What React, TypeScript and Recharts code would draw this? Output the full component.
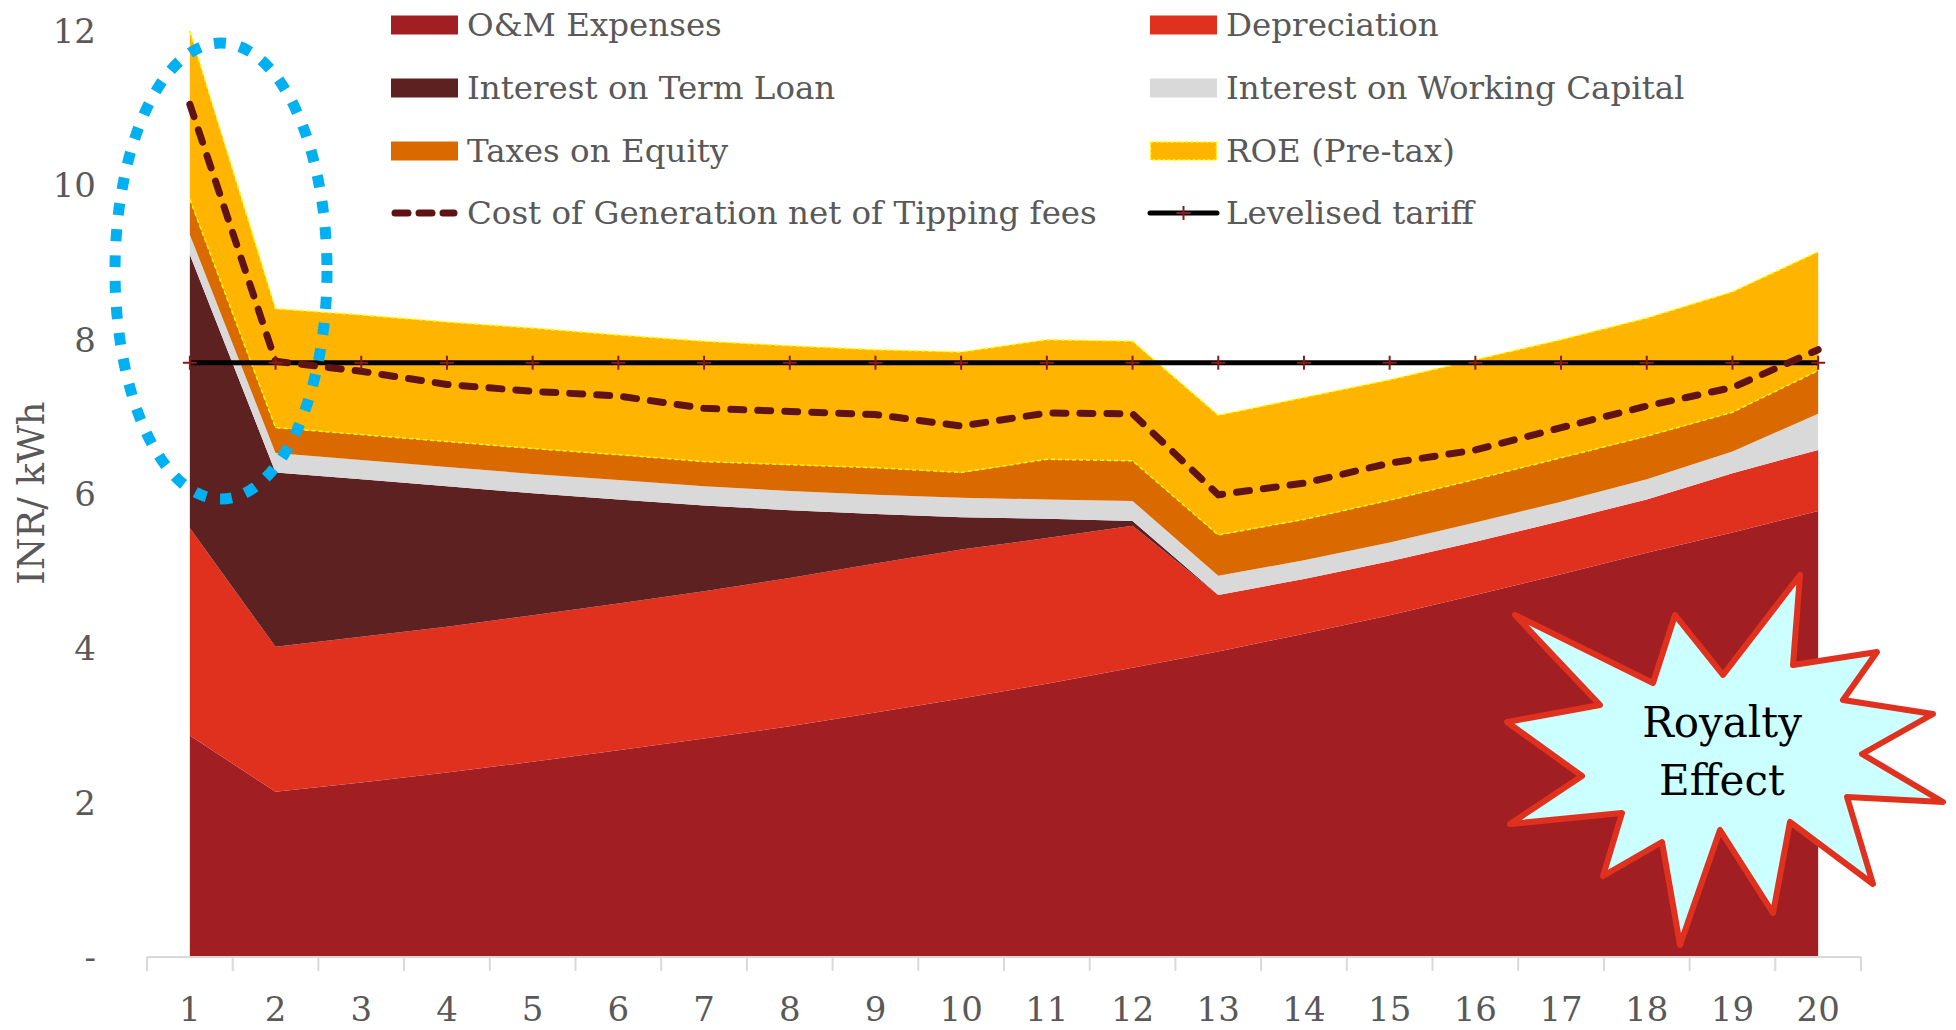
import { ComposedChart, Area, Line, XAxis, YAxis, Legend } from 'recharts';

const YEARS = [1, 2, 3, 4, 5, 6, 7, 8, 9, 10, 11, 12, 13, 14, 15, 16, 17, 18, 19, 20];
const OM_EXPENSES = [2.87, 2.14, 2.26, 2.39, 2.53, 2.68, 2.83, 2.99, 3.17, 3.35, 3.54, 3.75, 3.96, 4.19, 4.43, 4.69, 4.96, 5.24, 5.5, 5.78];
const DEPRECIATION = [2.69, 1.88, 1.89, 1.89, 1.9, 1.9, 1.91, 1.92, 1.93, 1.93, 1.89, 1.84, 0.73, 0.71, 0.7, 0.69, 0.69, 0.69, 0.77, 0.79];
const TERM_LOAN = [3.54, 2.26, 2.04, 1.82, 1.58, 1.35, 1.11, 0.88, 0.64, 0.42, 0.25, 0.06, 0, 0, 0, 0, 0, 0, 0, 0];
const WORKING_CAP = [0.26, 0.25, 0.25, 0.25, 0.25, 0.25, 0.25, 0.25, 0.25, 0.25, 0.25, 0.26, 0.25, 0.24, 0.24, 0.25, 0.25, 0.26, 0.28, 0.47];
const TAXES = [0.46, 0.33, 0.33, 0.33, 0.33, 0.33, 0.32, 0.34, 0.35, 0.33, 0.52, 0.52, 0.53, 0.53, 0.55, 0.56, 0.57, 0.56, 0.51, 0.56];
const ROE = [2.18, 1.54, 1.55, 1.55, 1.56, 1.55, 1.56, 1.54, 1.53, 1.56, 1.55, 1.55, 1.55, 1.58, 1.56, 1.55, 1.53, 1.53, 1.56, 1.54];
const COST_NET = [11.05, 7.72, 7.59, 7.42, 7.33, 7.27, 7.11, 7.07, 7.03, 6.88, 7.05, 7.04, 5.99, 6.14, 6.4, 6.57, 6.86, 7.14, 7.38, 7.87];
const TARIFF = [7.7, 7.7, 7.7, 7.7, 7.7, 7.7, 7.7, 7.7, 7.7, 7.7, 7.7, 7.7, 7.7, 7.7, 7.7, 7.7, 7.7, 7.7, 7.7, 7.7];
const Y_TICKS = [0, 2, 4, 6, 8, 10, 12];

const data = YEARS.map((year, i) => ({
  year,
  om: OM_EXPENSES[i],
  dep: DEPRECIATION[i],
  itl: TERM_LOAN[i],
  iwc: WORKING_CAP[i],
  tax: TAXES[i],
  roe: ROE[i],
  roeBase: +(OM_EXPENSES[i] + DEPRECIATION[i] + TERM_LOAN[i] + WORKING_CAP[i] + TAXES[i]).toFixed(2),
  cog: COST_NET[i],
  tariff: TARIFF[i],
}));

const W = 1956;
const H = 1030;
const M = { top: 31, right: 95, left: 0, bottom: 0 };
const Y_W = 147;
const HALF_BAND = (W - M.right - Y_W) / YEARS.length / 2;

const FONT = '"DejaVu Serif", Georgia, serif';
const GREY_TEXT = '#595959';

const C = {
  om: '#A11F22',
  dep: '#E0311F',
  itl: '#5E2122',
  iwc: '#D9D9D9',
  tax: '#DA6A00',
  roe: '#FFB500',
  roeEdge: '#FFFF00',
  cog: '#5F1313',
  marker: '#8B1A1A',
};

function XTick({ x, y, payload }: { x: number; y: number; payload: { value: number } }) {
  return (
    <g>
      <line x1={x - HALF_BAND} y1={y} x2={x - HALF_BAND} y2={y + 14} stroke="#D9D9D9" strokeWidth={2} />
      {payload.value === YEARS[YEARS.length - 1] && (
        <line x1={x + HALF_BAND} y1={y} x2={x + HALF_BAND} y2={y + 14} stroke="#D9D9D9" strokeWidth={2} />
      )}
      <text x={x} y={y + 64} textAnchor="middle" fill={GREY_TEXT} fontSize={34} fontFamily={FONT}>
        {payload.value}
      </text>
    </g>
  );
}

function PlusDot({ cx, cy, index }: { cx?: number; cy?: number; index?: number }) {
  if (cx == null || cy == null) return null;
  return <path key={`p${index}`} d={`M${cx - 7},${cy}h14M${cx},${cy - 7}v14`} stroke={C.marker} strokeWidth={2} />;
}

const legendRows = [
  [
    { label: 'O&M Expenses', kind: 'box', color: C.om },
    { label: 'Depreciation', kind: 'box', color: C.dep },
  ],
  [
    { label: 'Interest on Term Loan', kind: 'box', color: C.itl },
    { label: 'Interest on Working Capital', kind: 'box', color: C.iwc },
  ],
  [
    { label: 'Taxes on Equity', kind: 'box', color: C.tax },
    { label: 'ROE (Pre-tax)', kind: 'roe', color: C.roe },
  ],
  [
    { label: 'Cost of Generation net of Tipping fees', kind: 'dash', color: C.cog },
    { label: 'Levelised tariff', kind: 'tariff', color: '#000' },
  ],
];

function LegendContent() {
  const cols = [391, 1150];
  const rowsY = [25, 88, 151, 213];
  return (
    <svg width={W} height={240} style={{ display: 'block' }}>
      {legendRows.map((row, r) =>
        row.map((item, c) => {
          const x = cols[c];
          const cy = rowsY[r];
          let sample;
          if (item.kind === 'box') {
            sample = <rect x={x} y={cy - 9.5} width={67} height={19} fill={item.color} />;
          } else if (item.kind === 'roe') {
            sample = (
              <rect x={x + 0.5} y={cy - 9} width={66} height={18} fill={item.color} stroke={C.roeEdge} strokeWidth={1.5} strokeDasharray="3 2" />
            );
          } else if (item.kind === 'dash') {
            sample = (
              <line x1={x + 4} y1={cy} x2={x + 63} y2={cy} stroke={item.color} strokeWidth={7} strokeDasharray="13 11" strokeLinecap="round" />
            );
          } else {
            sample = (
              <g>
                <line x1={x} y1={cy} x2={x + 67} y2={cy} stroke="#000" strokeWidth={5} strokeLinecap="round" />
                <path d={`M${x + 26.5},${cy}h14M${x + 33.5},${cy - 7}v14`} stroke={C.marker} strokeWidth={2} />
              </g>
            );
          }
          return (
            <g key={`${r}-${c}`}>
              {sample}
              <text x={x + 76} y={cy + 11} fill={GREY_TEXT} fontSize={32.5} fontFamily={FONT}>
                {item.label}
              </text>
            </g>
          );
        })
      )}
    </svg>
  );
}

const STAR = [
  [1800, 575], [1793, 665], [1877, 652], [1843, 700], [1933, 714], [1862, 754], [1943, 802], [1847, 797],
  [1873, 884], [1790, 822], [1773, 913], [1720, 830], [1680, 945], [1662, 842], [1603, 876], [1622, 813],
  [1510, 824], [1582, 776], [1507, 722], [1600, 705], [1515, 615], [1653, 683], [1675, 615], [1723, 675],
];

export default function App() {
  return (
    <div style={{ position: 'absolute', left: 0, top: 0, width: W, height: H, background: '#fff' }}>
      <ComposedChart width={W} height={H} data={data} margin={M}>
        <XAxis
          dataKey="year"
          scale="band"
          interval={0}
          height={73}
          axisLine={{ stroke: '#D9D9D9', strokeWidth: 2 }}
          tickLine={false}
          tickSize={0}
          tickMargin={0}
          tick={(p: any) => <XTick {...p} />}
        />
        <YAxis
          width={Y_W}
          domain={[0, 12]}
          ticks={Y_TICKS}
          interval={0}
          axisLine={false}
          tickLine={false}
          tickSize={0}
          tickMargin={51}
          tickFormatter={(v: number) => (v === 0 ? '-' : String(v))}
          tick={{ fontSize: 34, fill: GREY_TEXT, fontFamily: FONT }}
          label={{
            content: () => (
              <text transform="translate(44,493) rotate(-90)" textAnchor="middle" fill={GREY_TEXT} fontSize={37} fontFamily={FONT}>
                INR/ kWh
              </text>
            ),
          }}
        />
        <Legend
          layout="horizontal"
          verticalAlign="middle"
          align="center"
          wrapperStyle={{ top: 0, left: 0, width: W, height: 240 }}
          content={() => <LegendContent />}
        />
        <Area type="linear" dataKey="om" name="O&M Expenses" stackId="s" fill={C.om} fillOpacity={1} stroke="none" isAnimationActive={false} />
        <Area type="linear" dataKey="dep" name="Depreciation" stackId="s" fill={C.dep} fillOpacity={1} stroke="none" isAnimationActive={false} />
        <Area type="linear" dataKey="itl" name="Interest on Term Loan" stackId="s" fill={C.itl} fillOpacity={1} stroke="none" isAnimationActive={false} />
        <Area type="linear" dataKey="iwc" name="Interest on Working Capital" stackId="s" fill={C.iwc} fillOpacity={1} stroke="none" isAnimationActive={false} />
        <Area type="linear" dataKey="tax" name="Taxes on Equity" stackId="s" fill={C.tax} fillOpacity={1} stroke="none" isAnimationActive={false} />
        <Area
          type="linear"
          dataKey="roe"
          name="ROE (Pre-tax)"
          stackId="s"
          fill={C.roe}
          fillOpacity={1}
          stroke={C.roeEdge}
          strokeWidth={1.5}
          strokeDasharray="4 3"
          isAnimationActive={false}
        />
        <Line type="linear" dataKey="roeBase" legendType="none" stroke={C.roeEdge} strokeWidth={1.5} strokeDasharray="4 3" dot={false} isAnimationActive={false} />
        <Line type="linear" dataKey="tariff" name="Levelised tariff" stroke="#000" strokeWidth={5} dot={(p: any) => <PlusDot {...p} />} isAnimationActive={false} />
        <Line
          type="linear"
          dataKey="cog"
          name="Cost of Generation net of Tipping fees"
          stroke={C.cog}
          strokeWidth={7}
          strokeDasharray="13 14"
          strokeLinecap="round"
          dot={false}
          isAnimationActive={false}
        />
      </ComposedChart>
      <svg width={W} height={H} style={{ position: 'absolute', left: 0, top: 0, pointerEvents: 'none' }}>
        <ellipse cx={221} cy={271} rx={106} ry={228} fill="none" stroke="#00B0F0" strokeWidth={11} strokeDasharray="12 14" />
        <polygon points={STAR.map((p) => p.join(',')).join(' ')} fill="#CCFFFF" stroke="#E0311F" strokeWidth={6} strokeLinejoin="round" />
        <text x={1722} y={737} textAnchor="middle" fontSize={42} fontFamily={FONT} fill="#000">
          Royalty
        </text>
        <text x={1722} y={795} textAnchor="middle" fontSize={42} fontFamily={FONT} fill="#000">
          Effect
        </text>
      </svg>
    </div>
  );
}
